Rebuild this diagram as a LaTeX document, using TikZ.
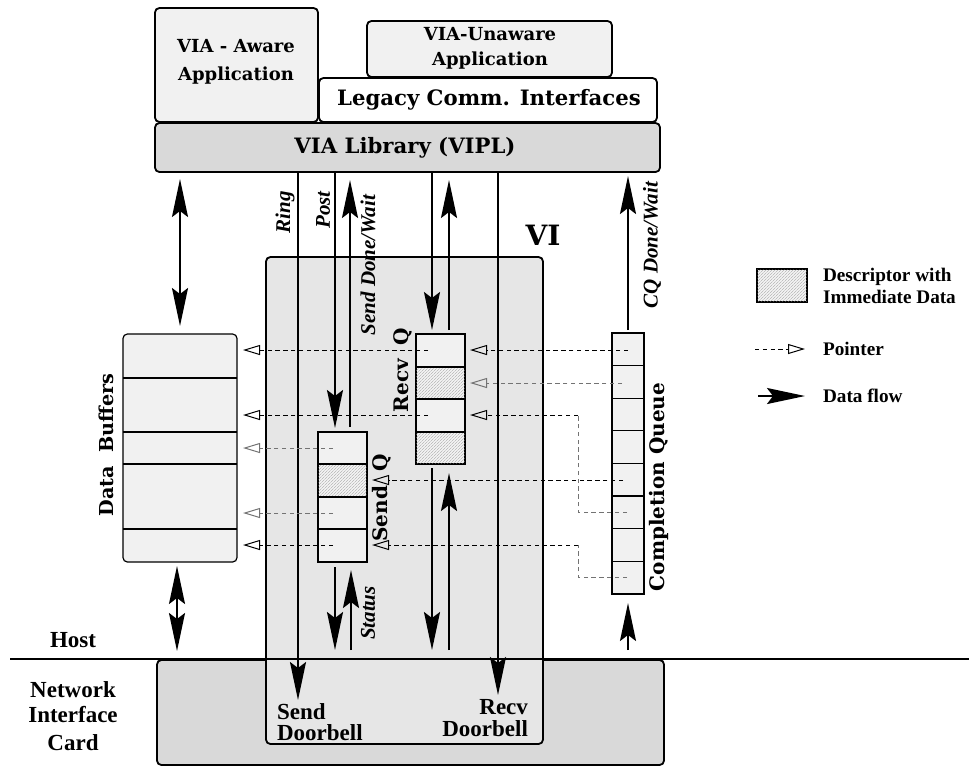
\documentclass[tikz,border=0pt]{standalone}
\usepackage{fontspec}
\setmainfont{Liberation Serif}
\newfontfamily\schf{DejaVu Serif}
\usetikzlibrary{arrows.meta,patterns.meta,fit}
\tikzdeclarepattern{
  name=dhatch, type=uncolored,
  bounding box={(0pt,0pt) and (1.6pt,1.6pt)},
  tile size={(1.6pt,1.6pt)},
  code={\draw[line width=0.18pt] (0pt,0pt) -- (1.6pt,1.6pt);}
}
\definecolor{libgray}{HTML}{D9D9D9}
\definecolor{vigray}{HTML}{E6E6E6}
\definecolor{lightf}{HTML}{F1F1F1}
\begin{document}
\begin{tikzpicture}[x=0.5pt,y=-0.5pt,
  box/.style={draw, line width=0.9pt, rounded corners=2.2pt, inner sep=0pt},
  qbox/.style={draw, line width=0.6pt, inner sep=0pt, fill=lightf},
  FlowTip/.tip={Stealth[length=19pt,width=8pt,inset=3pt]},
  flow/.style={line width=1pt, -FlowTip},
  flowboth/.style={line width=1pt, FlowTip-FlowTip},
  ptr/.style={line width=0.5pt, dash pattern=on 2.2pt off 1.7pt, -{Triangle[open,length=8.5pt,width=5pt,line width=0.5pt]}},
  ptrg/.style={ptr, draw=black!55},
  ptrline/.style={line width=0.5pt, dash pattern=on 2.2pt off 1.7pt},
  ptrlineg/.style={ptrline, draw=black!55},
  bigsch/.style={font=\schf\bfseries\fontsize{10.6}{13}\selectfont},
  smsch/.style={font=\schf\bfseries\fontsize{9}{14}\selectfont},
  tb/.style={font=\bfseries\fontsize{11.5}{10.8}\selectfont},
  ti/.style={font=\bfseries\itshape\fontsize{10.5}{12}\selectfont, rotate=90},
  lg/.style={font=\bfseries\fontsize{9.6}{11}\selectfont, anchor=west, align=left},
  hatchcell/.style={pattern=dhatch, pattern color=black!45}
]
\useasboundingbox (0,0) rectangle (969,768);

% ---------- top boxes
\node[box, fill=lightf, fit={(155,8) (318,122)}] (aware) {};
\node[box, fill=lightf, fit={(367,21) (612,77)}] (unaware) {};
\node[box, fill=white, fit={(319,78) (657,122)}] (legacy) {};
\node[box, fill=libgray, fit={(155,123) (660,172)}] (lib) {};
\node[smsch, align=center] (awaret) at (236,62) {VIA - Aware\\Application};
\node[smsch, align=center, font=\schf\bfseries\fontsize{9}{12.5}\selectfont] (unawaret) at (490,48) {VIA-Unaware\\Application};
\node[bigsch] (legacyt) at (489,100) {Legacy Comm. Interfaces};
\node[bigsch] (libt) at (405,148) {VIA Library (VIPL)};

% ---------- NIC and VI
\node[box, fill=libgray, fit={(157,660) (664,765)}] (nic) {};
\node[box, fill=vigray, fit={(266,257) (543,744)}] (vi) {};
\node[font=\schf\bfseries\fontsize{14}{16}\selectfont] (vit) at (543,235) {VI};

% host line
\coordinate (hl) at (10,659);
\coordinate (hr) at (969,659);
\draw[line width=0.6pt] (hl) -- (hr);
\node[tb] (host) at (73,640) {Host};
\node[tb] (nic1) at (73,690) {Network};
\node[tb] (nic2) at (73,714) {Interface};
\node[tb] (nic3) at (73,743) {Card};
\node[tb, align=left, anchor=west] (sdb) at (270,722) {Send\\Doorbell};
\node[tb, align=right, anchor=east] (rdb) at (535,718) {Recv\\Doorbell};

% ---------- data buffers
\node[box, line width=0.6pt, fill=lightf, fit={(123,334) (237,562)}] (buf) {};
\foreach \y in {378,432,464,529} \draw[line width=0.6pt] (123,\y) -- (237,\y);
\node[font=\schf\bfseries\fontsize{9.6}{12}\selectfont, rotate=90] (buft) at (106,445) {Data\ \ Buffers};

% ---------- send Q
\node[qbox, fit={(318,432) (367,562)}] (sq) {};
\path[hatchcell] (318,464) rectangle (367,497);
\foreach \y in {464,497,529} \draw[line width=0.6pt] (318,\y) -- (367,\y);
\draw[line width=0.6pt] (sq.north west) rectangle (sq.south east);
\node[font=\schf\bfseries\fontsize{10}{12}\selectfont, rotate=90] (sqt) at (382,498) {Send\ \ Q};

% ---------- recv Q
\node[qbox, fit={(416,334) (465,464)}] (rq) {};
\path[hatchcell] (416,367) rectangle (465,399);
\path[hatchcell] (416,432) rectangle (465,464);
\foreach \y in {367,399,432} \draw[line width=0.6pt] (416,\y) -- (465,\y);
\draw[line width=0.6pt] (rq.north west) rectangle (rq.south east);
\node[font=\schf\bfseries\fontsize{10}{12}\selectfont, rotate=90] (rqt) at (403,370) {Recv\ \ Q};

% ---------- completion queue
\node[qbox, fit={(612,333) (644,594)}] (cq) {};
\foreach \i in {1,...,7} \draw[line width=0.6pt] (612,333+\i*32.6) -- (644,333+\i*32.6);
\node[font=\schf\bfseries\fontsize{10}{12}\selectfont, rotate=90] (cqt) at (659,487) {Completion Queue};

% ---------- data flow arrows
\coordinate (b1a) at (180,179); \coordinate (b1b) at (180,326);
\draw[flowboth] (b1a) -- (b1b);
\coordinate (b2a) at (177,566); \coordinate (b2b) at (177,651);
\draw[flowboth] (b2a) -- (b2b);

\coordinate (ringA) at (298,172); \coordinate (ringB) at (298,700);
\draw[flow] (ringA) -- (ringB);
\coordinate (postA) at (335,172); \coordinate (postB) at (335,428);
\draw[flow] (postA) -- (postB);
\coordinate (sdA) at (350,427); \coordinate (sdB) at (350,180);
\draw[flow] (sdA) -- (sdB);
\coordinate (rdA) at (432,172); \coordinate (rdB) at (432,330);
\draw[flow] (rdA) -- (rdB);
\coordinate (ruA) at (449,330); \coordinate (ruB) at (449,180);
\draw[flow] (ruA) -- (ruB);
\coordinate (rbA) at (498,172); \coordinate (rbB) at (498,695);
\draw[flow] (rbA) -- (rbB);
\coordinate (cqA) at (628,330); \coordinate (cqB) at (628,176);
\draw[flow] (cqA) -- (cqB);

\coordinate (sqdA) at (335,567); \coordinate (sqdB) at (335,650);
\draw[flow] (sqdA) -- (sqdB);
\coordinate (stA) at (351,650); \coordinate (stB) at (351,570);
\draw[flow] (stA) -- (stB);
\coordinate (rqdA) at (432,468); \coordinate (rqdB) at (432,650);
\draw[flow] (rqdA) -- (rqdB);
\coordinate (rquA) at (449,650); \coordinate (rquB) at (449,473);
\draw[flow] (rquA) -- (rquB);
\coordinate (cquA) at (628,650); \coordinate (cquB) at (628,603);
\draw[flow] (cquA) -- (cquB);

% ---------- italic labels
\node[ti] (ringt) at (285,212) {Ring};
\node[ti] (postt) at (323,210) {Post};
\node[ti] (sdt) at (368,265) {Send Done/Wait};
\node[ti] (cqdt) at (652,245) {CQ Done/Wait};
\node[ti] (statt) at (368,613) {Status};

% ---------- pointers
\coordinate (r1s) at (428,350); \coordinate (b1) at (243,350);
\draw[ptr] (r1s) -- (b1);
\coordinate (r3s) at (428,415); \coordinate (b2) at (243,415);
\draw[ptr] (r3s) -- (b2);
\coordinate (s1s) at (333,448); \coordinate (b3) at (243,448);
\draw[ptrg] (s1s) -- (b3);
\coordinate (s3s) at (333,513); \coordinate (b4) at (243,513);
\draw[ptrg] (s3s) -- (b4);
\coordinate (s4s) at (333,545); \coordinate (b5) at (243,545);
\draw[ptr] (s4s) -- (b5);

\coordinate (c1s) at (628,350); \coordinate (r1e) at (470,350);
\draw[ptr] (c1s) -- (r1e);
\coordinate (c2s) at (622,383); \coordinate (r2e) at (470,383);
\draw[ptrg] (c2s) -- (r2e);
\coordinate (c6s) at (627,512); \coordinate (k1) at (578,512); \coordinate (k2) at (578,415); \coordinate (r3e) at (470,415);
\draw[ptrlineg] (c6s) -- (k1) -- (k2);
\draw[ptr] (k2) -- (r3e);
\coordinate (c5s) at (623,480); \coordinate (s2e) at (372,480);
\draw[ptr] (c5s) -- (s2e);
\coordinate (c8s) at (627,577); \coordinate (k3) at (578,577); \coordinate (k4) at (578,545); \coordinate (s4e) at (372,545);
\draw[ptrlineg] (c8s) -- (k3) -- (k4);
\draw[ptr] (k4) -- (s4e);

% ---------- legend
\node[qbox, fit={(757,269) (807,302)}] (lgbox) {};
\path[hatchcell] (757,269) rectangle (807,302);
\draw[line width=0.6pt] (lgbox.north west) rectangle (lgbox.south east);
\node[lg] (lgt1) at (816,286) {Descriptor with\\Immediate Data};
\coordinate (lp1) at (755,349); \coordinate (lp2) at (805,349);
\draw[ptr] (lp1) -- (lp2);
\node[lg] (lgt2) at (816,349) {Pointer};
\coordinate (lf1) at (758,396); \coordinate (lf2) at (805,396);
\draw[flow] (lf1) -- (lf2);
\node[lg] (lgt3) at (816,396) {Data flow};
\end{tikzpicture}
\end{document}
